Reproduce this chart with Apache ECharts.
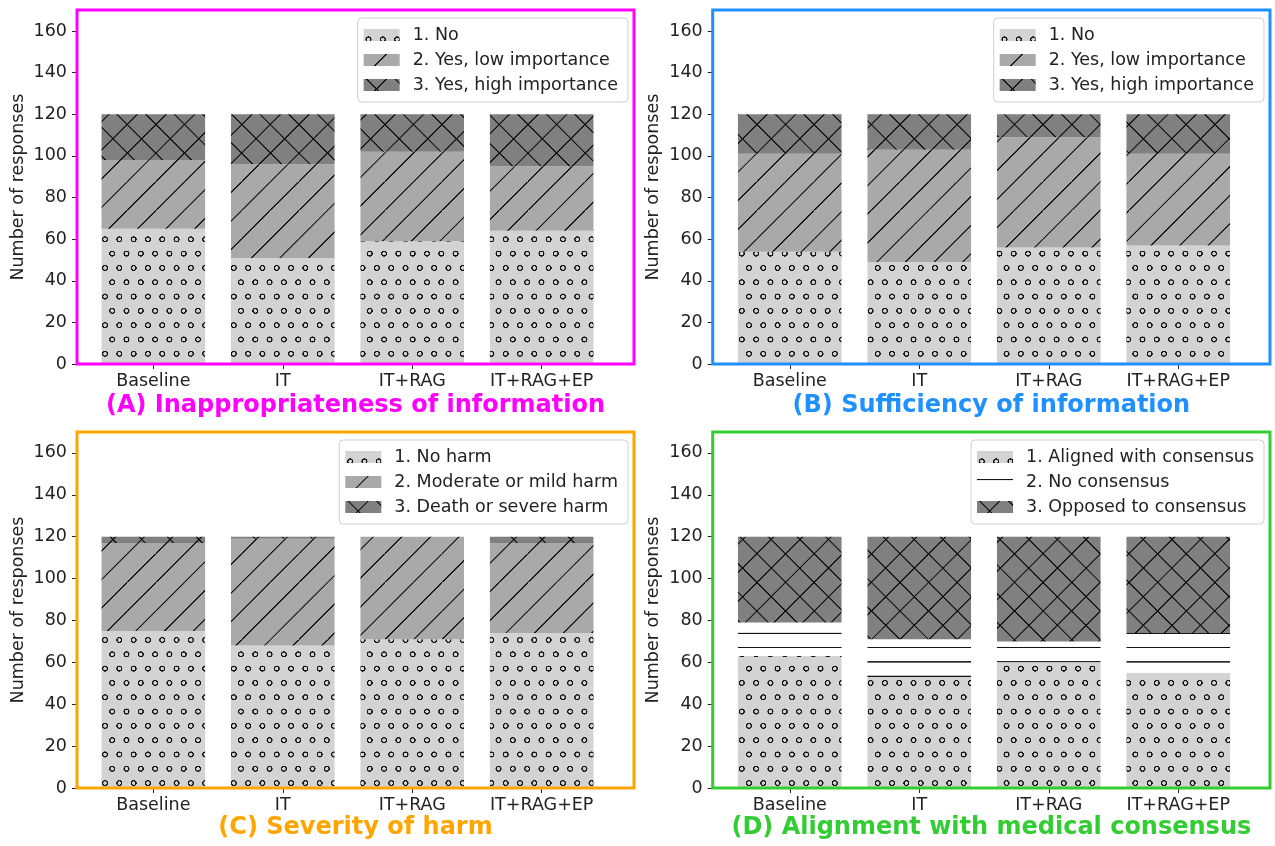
<!DOCTYPE html>
<html><head><meta charset="utf-8">
<script src="https://cdn.jsdelivr.net/npm/echarts@6/dist/echarts.min.js"></script>
<style>html,body{margin:0;padding:0;background:#fff}#c{width:1275px;height:846px}</style>
</head><body><div id="c"></div><script>
// ---------- data ----------
const categories = ['Baseline', 'IT', 'IT+RAG', 'IT+RAG+EP'];
const yTicks = [0, 20, 40, 60, 80, 100, 120, 140, 160];

const inapprNames = ['1. No', '2. Yes, low importance', '3. Yes, high importance'];
const inapprNo = [65, 51, 59, 64];
const inapprLow = [33, 45, 43, 31];
const inapprHigh = [22, 24, 18, 25];

const suffNames = ['1. No', '2. Yes, low importance', '3. Yes, high importance'];
const suffNo = [54, 49, 56, 57];
const suffLow = [47, 54, 53, 44];
const suffHigh = [19, 17, 11, 19];

const harmNames = ['1. No harm', '2. Moderate or mild harm', '3. Death or severe harm'];
const harmNone = [75, 68, 71, 74];
const harmModerate = [42, 51, 49, 43];
const harmSevere = [3, 1, 0, 3];

const consNames = ['1. Aligned with consensus', '2. No consensus', '3. Opposed to consensus'];
const consAligned = [63, 53, 60, 55];
const consNone = [16, 18, 10, 19];
const consOpposed = [41, 49, 50, 46];

const panelTitles = ['(A) Inappropriateness of information', '(B) Sufficiency of information',
  '(C) Severity of harm', '(D) Alignment with medical consensus'];

// ---------- hatch patterns ----------
const T = 114, P = 28.62, SC = P / T;
function tile(bg, draw, x0, y0, lw) {
  const c = document.createElement('canvas'); c.width = T; c.height = T;
  const g = c.getContext('2d'); g.fillStyle = bg; g.fillRect(0, 0, T, T);
  g.strokeStyle = '#151515'; g.lineWidth = lw; draw(g);
  return { image: c, repeat: 'repeat', x: x0, y: y0, scaleX: SC, scaleY: SC };
}
function drawDots(g) {
  for (let r = -1; r <= 2; r++) {
    for (let k = -1; k <= 2; k++) {
      const cx = k * T / 2 + (Math.abs(r) % 2 ? T / 4 : 0), cy = r * T / 2;
      g.beginPath(); g.arc(cx, cy, 9.5, 0, Math.PI * 2); g.stroke();
    }
  }
}
function drawSlash(g) {
  g.beginPath();
  for (let k = -1; k <= 1; k++) { g.moveTo(k * T, T); g.lineTo((k + 1) * T, 0); }
  g.stroke();
}
function drawCross(g) {
  drawSlash(g);
  g.beginPath();
  for (let k = -1; k <= 1; k++) { g.moveTo(k * T, 0); g.lineTo((k + 1) * T, T); }
  g.stroke();
}
function drawHoriz(g) {
  g.beginPath();
  [0, T / 2, T].forEach(y => { g.moveTo(0, y); g.lineTo(T, y); });
  g.stroke();
}
const patDots = tile('#d3d3d3', drawDots, 4.83, 10.34, 5.2);
const patSlash = tile('#a9a9a9', drawSlash, 12.79, 9.99, 5.0);
const patCross = tile('#808080', drawCross, 12.79, 9.99, 5.0);
const patHoriz = tile('#ffffff', drawHoriz, 0, 3.66, 5.0);

// ---------- layout ----------
const grids = [
  { left: 88.6, top: 10.3, width: 517.8, height: 353.7 },
  { left: 725, top: 10.3, width: 518, height: 353.7 },
  { left: 88.6, top: 432, width: 517.8, height: 356 },
  { left: 725, top: 432, width: 518, height: 356 }
];
const frames = [
  { x: 77, y: 10, w: 557, h: 354, c: '#ff00ff' },
  { x: 712.7, y: 10, w: 557.3, h: 354, c: '#1e90ff' },
  { x: 77, y: 432, w: 557, h: 356, c: '#ffa500' },
  { x: 712.7, y: 432, w: 557.3, h: 356, c: '#32cd32' }
];
const FONT = '"DejaVu Sans", sans-serif';
const FS = 17.5;

const panelData = [
  [inapprNames, [inapprNo, inapprLow, inapprHigh], [patDots, patSlash, patCross]],
  [suffNames, [suffNo, suffLow, suffHigh], [patDots, patSlash, patCross]],
  [harmNames, [harmNone, harmModerate, harmSevere], [patDots, patSlash, patCross]],
  [consNames, [consAligned, consNone, consOpposed], [patDots, patHoriz, patCross]]
];

const series = [];
panelData.forEach((pd, p) => {
  pd[1].forEach((arr, i) => {
    series.push({
      type: 'bar', name: pd[0][i], stack: 'p' + p, xAxisIndex: p, yAxisIndex: p,
      data: arr, barWidth: '80%', itemStyle: { color: pd[2][i] },
      emphasis: { disabled: true }, animation: false
    });
  });
});

const xAxis = grids.map((g, i) => ({
  type: 'category', gridIndex: i, data: categories,
  axisLine: { show: false },
  axisTick: { show: true, alignWithLabel: true, length: 5, lineStyle: { color: '#222' } },
  axisLabel: { interval: 0, fontSize: FS, color: '#222', margin: 8, fontFamily: FONT }
}));
const yAxis = grids.map((g, i) => ({
  type: 'value', gridIndex: i, min: 0, max: 170, interval: 20,
  offset: g.left - frames[i].x,
  axisLine: { show: false },
  axisTick: { show: true, length: 5, lineStyle: { color: '#222' }, customValues: yTicks },
  axisLabel: { fontSize: FS, color: '#222', margin: 10, fontFamily: FONT, customValues: yTicks },
  splitLine: { show: false },
  name: 'Number of responses', nameLocation: 'middle', nameGap: 50,
  nameTextStyle: { fontSize: FS, color: '#222', fontFamily: FONT }
}));

const legendPos = [
  { right: 647, top: 18 }, { right: 11, top: 18 },
  { right: 647, top: 440 }, { right: 11, top: 440 }
];
const legend = panelData.map((pd, i) => Object.assign({
  orient: 'vertical', data: pd[0], icon: 'rect', itemWidth: 36, itemHeight: 12, itemGap: 5,
  padding: [7, 10, 7, 6], borderColor: '#d0d0d0', borderWidth: 1, borderRadius: 4,
  backgroundColor: 'rgba(255,255,255,0.85)', selectedMode: false,
  textStyle: { fontSize: FS, color: '#222', fontFamily: FONT, lineHeight: 20, padding: [0, 0, 0, 8] }
}, legendPos[i]));

const graphic = [];
frames.forEach((f, i) => {
  graphic.push({ type: 'rect', z: 100, silent: true,
    shape: { x: f.x, y: f.y, width: f.w, height: f.h },
    style: { fill: 'none', stroke: f.c, lineWidth: 3 } });
  graphic.push({ type: 'text', z: 100, silent: true,
    x: f.x + f.w / 2, y: i < 2 ? 406 : 828,
    style: { text: panelTitles[i], fill: f.c, font: 'bold 24px ' + FONT,
      textAlign: 'center', textVerticalAlign: 'middle', align: 'center', verticalAlign: 'middle' } });
});

const chart = echarts.init(document.getElementById('c'), null, { renderer: 'canvas' });
chart.setOption({
  animation: false, backgroundColor: '#fff',
  grid: grids, xAxis, yAxis, legend, series, graphic
});
</script></body></html>
